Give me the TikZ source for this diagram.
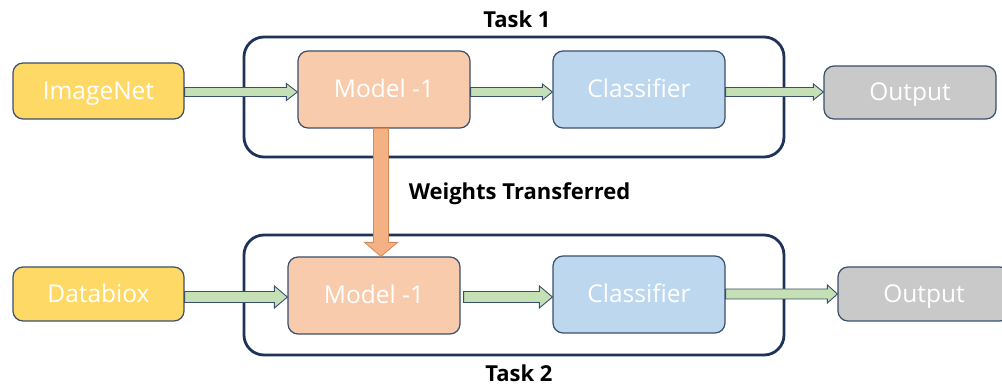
\documentclass[tikz,border=0pt]{standalone}
\usepackage{fontspec}
\setmainfont{Open Sans}
\usetikzlibrary{calc}
\definecolor{frameblue}{HTML}{1F3358}
\definecolor{edgeblue}{HTML}{3A4F6E}
\definecolor{inyellow}{HTML}{FFD966}
\definecolor{modelorange}{HTML}{F8CBAD}
\definecolor{clsblue}{HTML}{BDD7EE}
\definecolor{outgray}{HTML}{C9C9C9}
\definecolor{arrowgreen}{HTML}{C5E0B4}
\definecolor{arroworange}{HTML}{F4B183}
\definecolor{arroworangeedge}{HTML}{D08A5C}
\tikzset{
  box/.style={draw=edgeblue, line width=1.2pt, rounded corners=10pt, inner sep=0pt,
    text=white, font=\fontsize{24.5}{28}\selectfont, text height=17pt, text depth=0pt},
  frame/.style={draw=frameblue, line width=2.8pt, rounded corners=20pt, inner sep=0pt,
    minimum width=540pt, minimum height=120pt},
  greenarrow/.style={fill=arrowgreen, draw=edgeblue, line width=0.9pt, line join=miter},
  orangearrow/.style={fill=arroworange, draw=arroworangeedge, line width=0.8pt},
  lbl/.style={font=\bfseries\fontsize{22}{26}\selectfont, text=black, inner sep=0pt, anchor=base}
}
% #1 from, #2 to, #3 shaft half width, #4 head half width, #5 head length
\newcommand\hfatarrow[5]{%
  \path[greenarrow] let \p1=(#1), \p2=(#2) in
    (\x1,\y1+#3) -- (\x2-#5,\y1+#3) -- (\x2-#5,\y1+#4) -- (\x2,\y1)
    -- (\x2-#5,\y1-#4) -- (\x2-#5,\y1-#3) -- (\x1,\y1-#3) -- cycle;}
\begin{document}
\begin{tikzpicture}[x=1pt,y=-1pt]
\clip (0,0) rectangle (1002,387);
\fill[white] (0,0) rectangle (1002,387);
% frames
\node[frame] (task1) at (514,97) {};
\node[frame] (task2) at (514,295) {};
% top row
\node[box, fill=inyellow, minimum width=171pt, minimum height=56pt] (imgnet) at (98.5,91) {ImageNet};
\node[box, fill=modelorange, minimum width=172pt, minimum height=77pt] (mtop) at (384,89.5) {Model -1};
\node[box, fill=clsblue, minimum width=172pt, minimum height=77pt] (ctop) at (639,89.5) {Classifier};
\node[box, fill=outgray, minimum width=172pt, minimum height=53pt] (otop) at (910,92.5) {Output};
% bottom row
\node[box, fill=inyellow, minimum width=171pt, minimum height=54pt] (databiox) at (98.5,294) {Databiox};
\node[box, fill=modelorange, minimum width=172pt, minimum height=77pt] (mbot) at (374,295.5) {Model -1};
\node[box, fill=clsblue, minimum width=172pt, minimum height=77pt] (cbot) at (639,294.5) {Classifier};
\node[box, fill=outgray, minimum width=172pt, minimum height=54pt] (obot) at (924,294) {Output};
% green arrows top
\coordinate (a1s) at ($(imgnet.east)+(0,1)$);
\coordinate (a2s) at ($(mtop.east)+(0,2.5)$);
\coordinate (a3s) at ($(ctop.east)+(0,2.5)$);
\hfatarrow{a1s}{mtop.west}{4.5pt}{8.5pt}{11pt}
\hfatarrow{a2s}{ctop.west}{4.5pt}{8pt}{10pt}
\hfatarrow{a3s}{otop.west}{4.5pt}{8pt}{10pt}
% green arrows bottom
\coordinate (b1s) at ($(databiox.east)+(0,3)$);
\coordinate (b2s) at ($(mbot.east)+(3,1.5)$);
\coordinate (b3s) at ($(cbot.east)+(0,-0.5)$);
\hfatarrow{b1s}{mbot.west}{5.5pt}{11pt}{13pt}
\hfatarrow{b2s}{cbot.west}{5.5pt}{11pt}{13pt}
\hfatarrow{b3s}{obot.west}{5pt}{9pt}{10pt}
% orange transfer arrow
\coordinate (ws) at ($(mtop.south)+(-3,0)$);
\path[orangearrow] let \p1=(ws), \p2=(mbot.north) in
  (\x1+7.5pt,\y1) -- (\x1+7.5pt,\y2+14pt) -- (\x1+16.5pt,\y2+14pt) -- (\x1,\y2)
  -- (\x1-16.5pt,\y2+14pt) -- (\x1-7.5pt,\y2+14pt) -- (\x1-7.5pt,\y1) -- cycle;
% labels
\node[lbl] (t1) at (517,28) {Task 1};
\node[lbl] (t2) at (519,382) {Task 2};
\node[lbl] (wt) at (519.5,200) {Weights Transferred};
\end{tikzpicture}
\end{document}
